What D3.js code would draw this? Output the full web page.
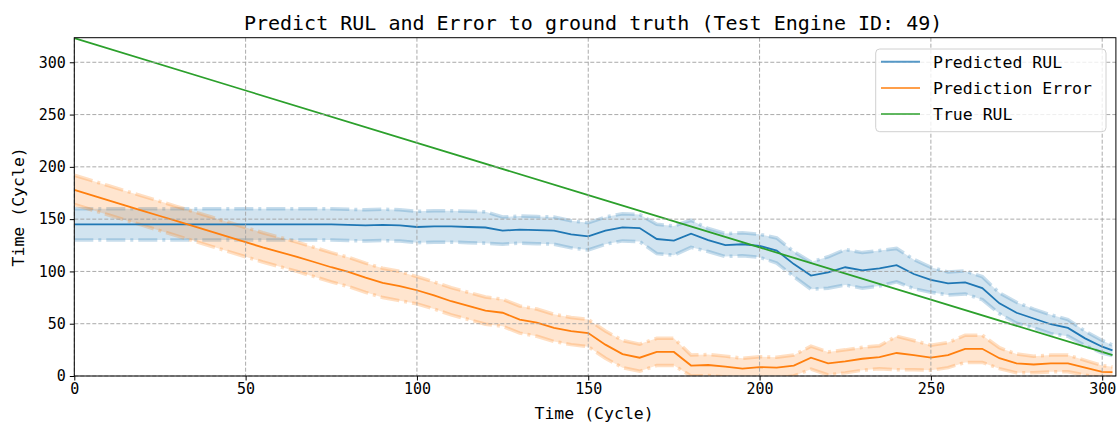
<!DOCTYPE html>
<html><head><meta charset="utf-8">
<script src="https://cdn.jsdelivr.net/npm/d3@7"></script>
<style>
html,body{margin:0;padding:0;background:#fff;}
svg{display:block;}
text{font-family:"DejaVu Sans Mono",monospace;fill:#000;}
</style></head>
<body><svg id="chart" width="1118" height="424"></svg>
<script>
const titleText = "Predict RUL and Error to ground truth (Test Engine ID: 49)";
const xLabel = "Time (Cycle)";
const yLabel = "Time (Cycle)";
const seriesNames = ["Predicted RUL", "Prediction Error", "True RUL"];
const xTicks = [0, 50, 100, 150, 200, 250, 300];
const yTicks = [0, 50, 100, 150, 200, 250, 300];

const cycles = [0,5,10,15,20,25,30,35,40,45,50,55,60,65,70,75,80,85,90,95,100,105,110,115,120,125,130,135,140,145,150,155,160,165,170,175,180,185,190,195,200,205,210,215,220,225,230,235,240,245,250,255,260,265,270,275,280,285,290,295,300,303];
const predRUL = [145,145,145,145,145,145,145,145,145,145,145,145,145,145,145,145,144.5,144,144.5,144,142.5,143,143,142.5,142,139,140,139.5,139,135.5,133.5,139,142.2,141.5,131,129.5,136,130,125.2,126,124.5,120,107,96,99,104,101,103,106,97.5,92,88.5,89.5,84,69.5,60.5,55,49.5,46,36,28,24.5];
const predBand = [15,15,15,15,15,15,15,15,15,15,15,15,15,15,15,15,15,15,15,15,15,15,15,15,15,13,13,13,13,13,13,13,13,13,14,14,13,11,11,11,11,12,12,13,15,17,17,17,16,14,12,11,11,11,10,10,9,9,8,7,6,5];
const predError = [178,173,168,163,158,153,148,143,138,133,128,123,118.5,114,109,104,99.5,94,89,86,82,77,71.5,67,62.5,60.5,54,51,46,43,41,30,21,17.5,23,23,10,10.5,9,7,8.5,8,10,17.5,12,14,16.5,18,22,20,17.5,20,26,26,17,12,11,12,12,8,4,3.8];
const errBand = [14,14,14,14,14,14,14,14,14,14,14,14,14,14,14,14,14,14,14,14,13,13,13,13,13,13,13,13,13,13,13,13,13,13,13,13,10,10,10,10,10,10,10,11,11,11,11,11,16,14,12,12,13,13,10,9,8,8,8,7,6,5];
const trueCycles = [0,50,100,150,200,250,300,303];
const trueRUL = [323,273,223,173,123,73,23,20];

const colors = ["#1f77b4", "#ff7f0e", "#2ca02c"];

const svg = d3.select("#chart");
const L = 74.3, R = 1115.9, T = 37.7, B = 376;
const x = d3.scaleLinear().domain([0, 304]).range([L, R]);
const y = d3.scaleLinear().domain([0, 323.5]).range([B, T]);

svg.append("defs").append("clipPath").attr("id","clip")
  .append("rect").attr("x",L).attr("y",T).attr("width",R-L).attr("height",B-T);

const plot = svg.append("g").attr("clip-path","url(#clip)");

function band(vals, half, color){
  const d = cycles.map((c,i)=>({c, lo: vals[i]-half[i], hi: vals[i]+half[i]}));
  plot.append("path").datum(d)
    .attr("d", d3.area().x(p=>x(p.c)).y0(p=>y(p.lo)).y1(p=>y(p.hi)))
    .attr("fill", color).attr("fill-opacity", 0.2);
  ["lo","hi"].forEach(k=>{
    plot.append("path").datum(d)
      .attr("d", d3.line().x(p=>x(p.c)).y(p=>y(p[k])))
      .attr("fill","none").attr("stroke", color).attr("stroke-opacity", 0.25)
      .attr("stroke-width", 3.5).attr("stroke-dasharray","19,5,3,5");
  });
}
band(predRUL, predBand, colors[0]);
band(predError, errBand, colors[1]);

// grid
const grid = svg.append("g");
xTicks.forEach(t=>{
  grid.append("line").attr("x1",x(t)).attr("x2",x(t)).attr("y1",T).attr("y2",B)
    .attr("stroke","#a0a0a0").attr("stroke-width",0.9).attr("stroke-dasharray","4,2");
});
yTicks.forEach(t=>{
  grid.append("line").attr("x1",L).attr("x2",R).attr("y1",y(t)).attr("y2",y(t))
    .attr("stroke","#a0a0a0").attr("stroke-width",0.9).attr("stroke-dasharray","4,2");
});

const line = d3.line().x((d)=>x(d[0])).y(d=>y(d[1]));
plot.append("path").datum(cycles.map((c,i)=>[c,predRUL[i]])).attr("d",line)
  .attr("fill","none").attr("stroke",colors[0]).attr("stroke-width",1.8);
plot.append("path").datum(cycles.map((c,i)=>[c,predError[i]])).attr("d",line)
  .attr("fill","none").attr("stroke",colors[1]).attr("stroke-width",1.8);
plot.append("path").datum(trueCycles.map((c,i)=>[c,trueRUL[i]])).attr("d",line)
  .attr("fill","none").attr("stroke",colors[2]).attr("stroke-width",1.8);

// axes
const xAxis = svg.append("g").attr("transform",`translate(0,${B})`)
  .call(d3.axisBottom(x).tickValues(xTicks).tickSize(4.5).tickPadding(3).tickFormat(d3.format("d")));
const yAxis = svg.append("g").attr("transform",`translate(${L},0)`)
  .call(d3.axisLeft(y).tickValues(yTicks).tickSize(4.5).tickPadding(4).tickFormat(d3.format("d")));
[xAxis,yAxis].forEach(a=>{
  a.select(".domain").remove();
  a.selectAll("text").attr("font-size","15px").attr("font-family","DejaVu Sans Mono").attr("fill","#000");
  a.selectAll("line").attr("stroke","#000").attr("stroke-width",1);
});
// spines
svg.append("rect").attr("x",L).attr("y",T).attr("width",R-L).attr("height",B-T)
  .attr("fill","none").attr("stroke","#000").attr("stroke-width",1);

// labels
svg.append("text").attr("x",(L+R)/2-2).attr("y",30).attr("text-anchor","middle")
  .attr("font-size","20px").text(titleText);
svg.append("text").attr("x",(L+R)/2-1).attr("y",419).attr("text-anchor","middle")
  .attr("font-size","16.5px").text(xLabel);
svg.append("text").attr("transform",`translate(24,${(T+B)/2}) rotate(-90)`).attr("text-anchor","middle")
  .attr("font-size","16.5px").text(yLabel);

// legend
const lg = svg.append("g");
lg.append("rect").attr("x",875.7).attr("y",49).attr("width",230.3).attr("height",82.7)
  .attr("rx",4).attr("fill","#fff").attr("fill-opacity",0.8).attr("stroke","#d0d0d0").attr("stroke-width",1);
seriesNames.forEach((n,i)=>{
  const yy = 61.7 + i*26.2;
  lg.append("line").attr("x1",881).attr("x2",920).attr("y1",yy).attr("y2",yy)
    .attr("stroke",colors[i]).attr("stroke-width",2).attr("stroke-opacity",0.75);
  lg.append("text").attr("x",933).attr("y",yy+6).attr("font-size","16.5px").text(n);
});
</script></body></html>
